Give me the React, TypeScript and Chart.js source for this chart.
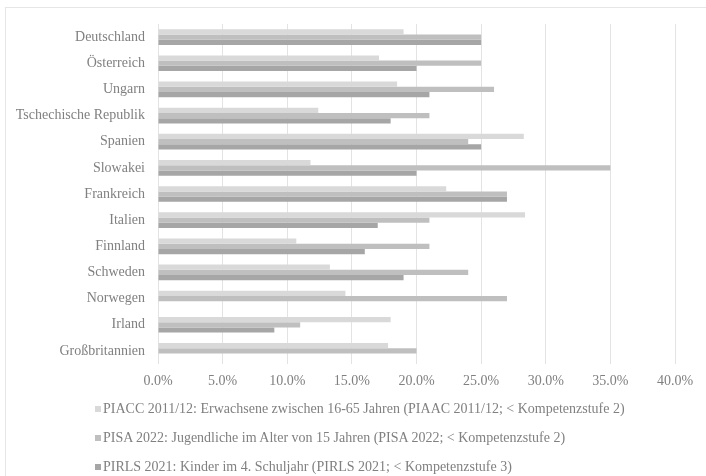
import React, { useEffect, useRef } from "react";
import { Chart, registerables } from "chart.js";

Chart.register(...registerables);

const countries = [
  "Deutschland",
  "Österreich",
  "Ungarn",
  "Tschechische Republik",
  "Spanien",
  "Slowakei",
  "Frankreich",
  "Italien",
  "Finnland",
  "Schweden",
  "Norwegen",
  "Irland",
  "Großbritannien",
];

const piaac = [19.0, 17.1, 18.5, 12.4, 28.3, 11.8, 22.3, 28.4, 10.7, 13.3, 14.5, 18.0, 17.8];
const pisa = [25.0, 25.0, 26.0, 21.0, 24.0, 35.0, 27.0, 21.0, 21.0, 24.0, 27.0, 11.0, 20.0];
const pirls = [25.0, 20.0, 21.0, 18.0, 25.0, 20.0, 27.0, 17.0, 16.0, 19.0, null, 9.0, null];

const seriesLabels = [
  "PIACC 2011/12: Erwachsene zwischen 16-65 Jahren (PIAAC 2011/12; < Kompetenzstufe 2)",
  "PISA 2022: Jugendliche im Alter von 15 Jahren (PISA 2022; < Kompetenzstufe 2)",
  "PIRLS 2021: Kinder im 4. Schuljahr (PIRLS 2021; < Kompetenzstufe 3)",
];
const seriesColors = ["#d9d9d9", "#bfbfbf", "#a6a6a6"];

const xMin = 0;
const xMax = 40;
const xStep = 5;

const FONT = "'Liberation Serif', 'Times New Roman', serif";
const TEXT = "#808080";

export default function App() {
  const ref = useRef<HTMLCanvasElement | null>(null);

  useEffect(() => {
    if (!ref.current) return;
    const chart = new Chart(ref.current, {
      type: "bar",
      data: {
        labels: countries,
        datasets: [piaac, pisa, pirls].map((d, i) => ({
          label: seriesLabels[i],
          data: d as any,
          backgroundColor: seriesColors[i],
          borderWidth: 0,
          categoryPercentage: 0.6,
          barPercentage: 1.0,
        })),
      },
      options: {
        indexAxis: "y",
        animation: false,
        responsive: false,
        maintainAspectRatio: false,
        layout: { padding: { left: 0, right: 31, top: 24, bottom: 0 } },
        plugins: {
          legend: { display: false },
          tooltip: { enabled: false },
        },
        scales: {
          x: {
            min: xMin,
            max: xMax,
            ticks: {
              stepSize: xStep,
              color: TEXT,
              font: { family: FONT, size: 14 },
              padding: 9,
              callback: (v: any) => Number(v).toFixed(1) + "%",
            },
            grid: { color: "#e3e3e3", lineWidth: 1, drawTicks: false },
            border: { display: false },
            afterFit: (s: any) => {
              s.height = 36;
            },
          },
          y: {
            ticks: {
              color: TEXT,
              font: { family: FONT, size: 14 },
              padding: 13,
              autoSkip: false,
            },
            grid: { display: false, drawTicks: false },
            border: { display: false },
            afterFit: (s: any) => {
              s.width = 158;
            },
          },
        },
      },
    });
    return () => chart.destroy();
  }, []);

  return (
    <div
      style={{
        position: "fixed",
        left: 0,
        top: 0,
        width: 706,
        height: 476,
        background: "#ffffff",
        overflow: "hidden",
      }}
    >
      <div
        style={{
          position: "absolute",
          left: 5,
          top: 7,
          width: 760,
          height: 520,
          borderTop: "1px solid #e6e6e6",
          borderLeft: "1px solid #e6e6e6",
        }}
      />
      <canvas
        ref={ref}
        width={706}
        height={400}
        style={{ position: "absolute", left: 0, top: 0, width: 706, height: 400 }}
      />
      {seriesLabels.map((lab, i) => (
        <div
          key={i}
          style={{
            position: "absolute",
            left: 95,
            top: 399 + i * 29,
            height: 20,
            display: "flex",
            alignItems: "center",
            whiteSpace: "nowrap",
            fontFamily: FONT,
            fontSize: 14,
            color: TEXT,
          }}
        >
          <span
            style={{
              display: "inline-block",
              width: 6,
              height: 6,
              background: seriesColors[i],
              marginRight: 2,
            }}
          />
          <span>{lab}</span>
        </div>
      ))}
    </div>
  );
}
